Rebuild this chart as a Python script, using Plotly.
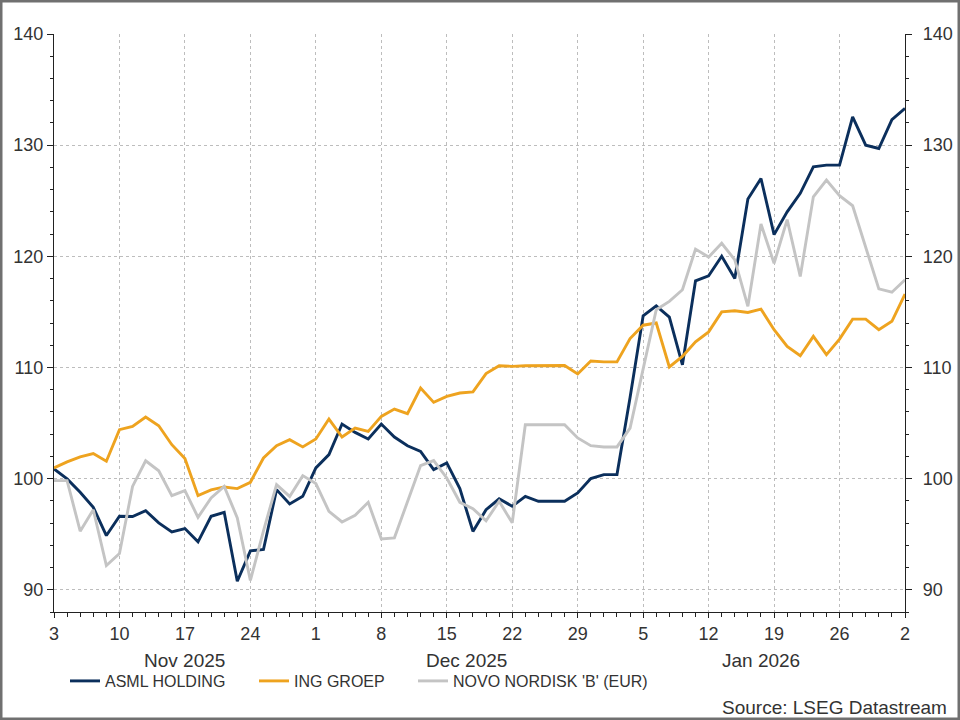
import pandas as pd
import plotly.graph_objects as go

# ---------------- data ----------------
dates = pd.bdate_range("2025-11-03", "2026-02-02")

asml = [100.87, 99.97, 98.77, 97.42, 94.88, 96.61, 96.59, 97.12, 96.02, 95.21,
        95.51, 94.31, 96.61, 96.97, 90.77, 93.50, 93.62, 99.01, 97.72, 98.41,
        100.96, 102.16, 104.91, 104.16, 103.57, 104.91, 103.74, 102.96, 102.45, 100.81,
        101.41, 99.10, 95.25, 97.20, 98.18, 97.51, 98.41, 97.96, 97.96, 97.96,
        98.71, 100.00, 100.36, 100.36, 107.30, 114.65, 115.54, 114.53, 110.24, 117.79,
        118.24, 120.00, 118.00, 125.15, 127.00, 121.95, 124.00, 125.67, 128.05, 128.20,
        128.20, 132.55, 130.00, 129.70, 132.30, 133.30]

ing = [100.96, 101.50, 101.95, 102.25, 101.56, 104.40, 104.70, 105.54, 104.76, 103.05,
       101.80, 98.47, 98.99, 99.25, 99.10, 99.67, 101.86, 102.96, 103.50, 102.85,
       103.57, 105.36, 103.74, 104.55, 104.25, 105.60, 106.26, 105.84, 108.15, 106.86,
       107.40, 107.70, 107.80, 109.45, 110.15, 110.10, 110.15, 110.15, 110.15, 110.18,
       109.42, 110.58, 110.50, 110.50, 112.60, 113.80, 114.00, 110.05, 111.00, 112.30,
       113.20, 115.00, 115.10, 114.95, 115.25, 113.40, 111.90, 111.05, 112.80, 111.15,
       112.55, 114.35, 114.35, 113.40, 114.15, 116.60]

novo = [99.82, 99.82, 95.27, 97.20, 92.18, 93.26, 99.30, 101.60, 100.70, 98.47,
        98.92, 96.52, 98.27, 99.30, 96.47, 90.84, 95.30, 99.46, 98.40, 100.27,
        99.55, 97.06, 96.10, 96.70, 97.87, 94.58, 94.67, 97.96, 101.17, 101.62,
        100.06, 97.87, 97.30, 96.20, 97.96, 96.02, 104.85, 104.85, 104.85, 104.85,
        103.66, 102.96, 102.85, 102.85, 104.55, 109.95, 115.20, 115.94, 116.99, 120.65,
        119.93, 121.17, 119.68, 115.50, 122.90, 119.37, 123.30, 118.18, 125.36, 126.86,
        125.45, 124.55, 120.80, 117.07, 116.77, 117.88]

series_names = ["ASML HOLDING", "ING GROEP", "NOVO NORDISK 'B' (EUR)"]
series_colors = ["#0b2f5c", "#eea31f", "#c4c4c4"]

month_labels = ["Nov 2025", "Dec 2025", "Jan 2026"]
month_label_dates = ["2025-11-17", "2025-12-16 12:00", "2026-01-16"]

y_ticks = [90, 100, 110, 120, 130, 140]
source_text = "Source: LSEG Datastream"

# ---------------- layout geometry ----------------
W, H = 960, 720
ML, MR, MT, MB = 54, 55, 34, 108
PW, PH = W - ML - MR, H - MT - MB


def px_x(px):
    return (px - ML) / PW


def px_y(py):
    return (H - MB - py) / PH


FONT = "Liberation Sans, Arial, sans-serif"
TXT = "#333333"

mondays = [d for d in dates if d.weekday() == 0]
tick_text = [str(d.day) for d in mondays]

fig = go.Figure()
legend_ids = ["legend", "legend2", "legend3"]
for vals, name, col, lg in zip([asml, ing, novo], series_names, series_colors, legend_ids):
    fig.add_trace(go.Scatter(x=dates, y=vals, mode="lines", name=name,
                             line=dict(color=col, width=2.9), legend=lg))

# invisible trace so that the right axis is drawn
fig.add_trace(go.Scatter(x=[dates[0]], y=[100], yaxis="y2", mode="lines",
                         showlegend=False, hoverinfo="skip", line=dict(width=0)))

yaxis_common = dict(range=[88, 140], tickvals=y_ticks, showline=True, linecolor="#222222",
                    linewidth=1.3, ticks="outside", ticklen=6, tickwidth=1.2, tickcolor="#222222",
                    tickfont=dict(family=FONT, size=18, color=TXT),
                    minor=dict(dtick=2, ticks="outside", ticklen=3, tickcolor="#222222", showgrid=False),
                    zeroline=False, automargin=False)

legend_x_px = [65, 254, 413]
legend_common = dict(orientation="h", yanchor="middle", y=px_y(681), xanchor="left",
                     font=dict(family=FONT, size=16, color=TXT), bgcolor="rgba(0,0,0,0)",
                     itemwidth=30)

fig.update_layout(
    width=W, height=H,
    margin=dict(l=ML, r=MR, t=MT, b=MB, autoexpand=False),
    paper_bgcolor="white", plot_bgcolor="white",
    font=dict(family=FONT, color=TXT),
    xaxis=dict(type="date", range=[dates[0], dates[-1]],
               rangebreaks=[dict(bounds=["sat", "mon"])],
               tickmode="array", tickvals=mondays, ticktext=tick_text,
               showline=True, linecolor="#222222", linewidth=1.3,
               ticks="outside", ticklen=5, tickcolor="#222222",
               tickfont=dict(family=FONT, size=18, color=TXT),
               showgrid=True, gridcolor="#bdbdbd", griddash="dot", gridwidth=1,
               minor=dict(tickmode="array", tickvals=list(dates), ticks="outside",
                          ticklen=4, tickcolor="#222222", showgrid=False),
               zeroline=False, automargin=False),
    yaxis=dict(**yaxis_common, side="left", showgrid=True, gridcolor="#bdbdbd",
               griddash="dot", gridwidth=1),
    yaxis2=dict(**yaxis_common, side="right", overlaying="y", anchor="x", showgrid=False,
                ticklabelstandoff=7),
    legend=dict(**legend_common, x=px_x(legend_x_px[0])),
    legend2=dict(**legend_common, x=px_x(legend_x_px[1])),
    legend3=dict(**legend_common, x=px_x(legend_x_px[2])),
    showlegend=True,
)

for lab, d in zip(month_labels, month_label_dates):
    fig.add_annotation(x=d, y=px_y(660), xref="x", yref="paper", text=lab, showarrow=False,
                       font=dict(family=FONT, size=19, color=TXT), xanchor="center", yanchor="middle")

fig.add_annotation(x=px_x(949), y=px_y(707), xref="paper", yref="paper", text=source_text,
                   showarrow=False, font=dict(family=FONT, size=19, color=TXT),
                   xanchor="right", yanchor="middle")

# outer frame
fig.add_shape(type="rect", xref="paper", yref="paper",
              x0=px_x(0), x1=px_x(W), y0=px_y(H), y1=px_y(0),
              line=dict(color="#707070", width=5), fillcolor="rgba(0,0,0,0)", layer="above")

fig.write_html("out.html")
